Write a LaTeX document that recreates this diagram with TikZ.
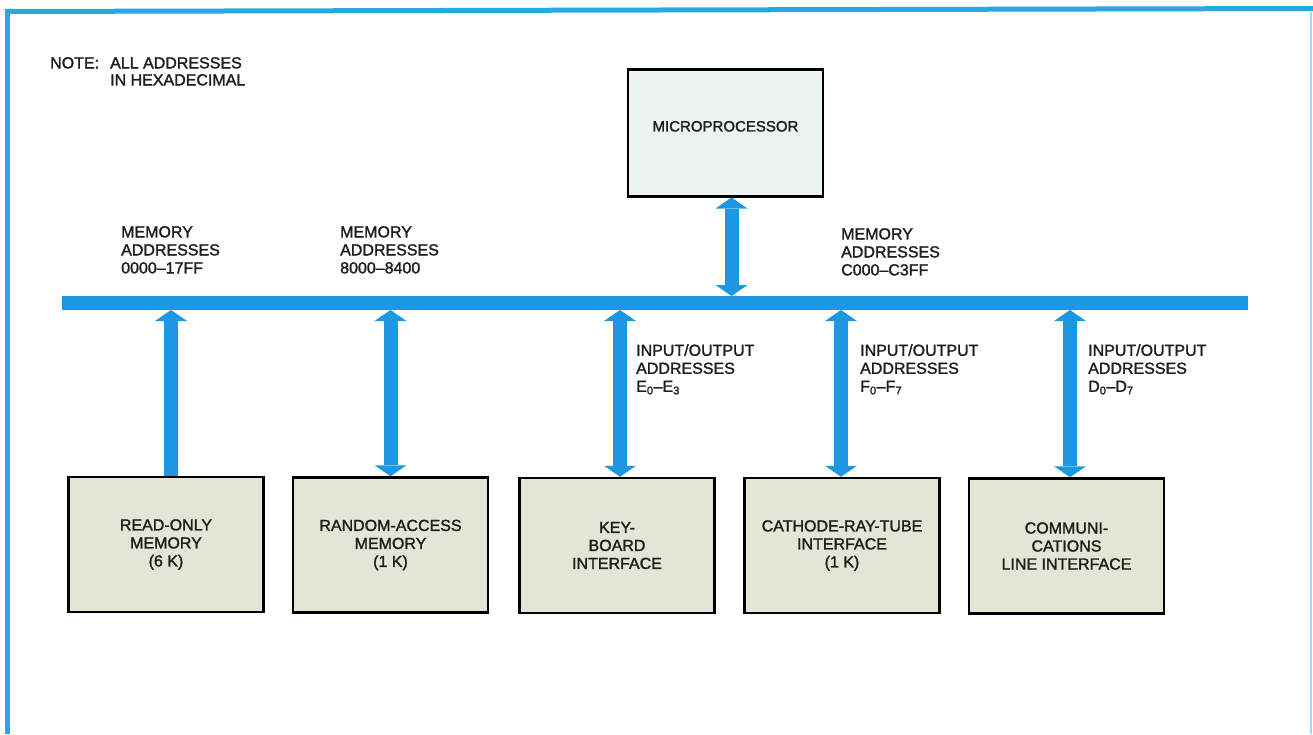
\documentclass[tikz,border=0pt]{standalone}
\usepackage{fontspec}
% a medium weight: the regular face, slightly emboldened
\setmainfont[BoldFont={Liberation Sans}, BoldFeatures={FakeBold=1.6}]{Liberation Sans}
\usetikzlibrary{arrows.meta}

\definecolor{busblue}{RGB}{28,152,226}
\definecolor{frameblue}{RGB}{40,168,226}
\definecolor{cpufill}{RGB}{236,243,240}
\definecolor{unitfill}{RGB}{227,229,213}
\definecolor{inkcol}{RGB}{30,30,30}

\begin{document}
\begin{tikzpicture}[x=1pt,y=-1pt,
  every node/.style={font=\fontsize{16}{18}\selectfont\bfseries, text=inkcol, inner sep=0pt},
  unit/.style={draw=black, line width=2.5pt, fill=unitfill,
    minimum width=195pt, minimum height=135pt, align=center},
  cpubox/.style={unit, fill=cpufill, minimum height=127pt,
    font=\fontsize{15}{18}\selectfont\bfseries, text depth=13pt},
  busbar/.style={fill=busblue, minimum width=1186pt, minimum height=14pt, outer sep=0pt},
  addr/.style={anchor=north west, align=left},
  note/.style={anchor=north west, align=left, font=\fontsize{16}{17}\selectfont\bfseries},
  buslink/.style={draw=busblue, line width=14pt},
  >={Triangle[width=32pt,length=11pt,line width=0pt]}
]
\useasboundingbox (0,0) rectangle (1313,734);

% frame
\draw[frameblue, line width=5pt] (5,11.5) -- (1313,8.5);
\draw[frameblue, line width=5pt] (7.5,9) -- (7.5,734);
\draw[frameblue!45, line width=2.5pt] (1311,12) -- (1311,734);

% note
\node[note] (notehead) at (50,57) {NOTE:};
\node[note] (notebody) at (110,57) {ALL ADDRESSES\\IN HEXADECIMAL};

% processor and bus
\node[cpubox] (cpu) at (725.5,132.75) {MICROPROCESSOR};
\node[busbar] (bus) at (655,303) {};

% units on the bus
\node[unit] (rom)  at (166,544.5)  {READ-ONLY\\MEMORY\\(6 K)};
\node[unit] (ram)  at (390.5,545)  {RANDOM-ACCESS\\MEMORY\\(1 K)};
\node[unit] (kbd)  at (617,545.5)  {KEY-\\BOARD\\INTERFACE};
\node[unit] (crt)  at (842,545.5)  {CATHODE-RAY-TUBE\\INTERFACE\\(1 K)};
\node[unit] (comm) at (1066.5,546) {COMMUNI-\\CATIONS\\LINE INTERFACE};

% connection points
\coordinate (cpuport)  at ([xshift=6pt]cpu.south);
\coordinate (romport)  at ([xshift=5pt]rom.north);
\coordinate (ramport)  at (ram.north);
\coordinate (kbdport)  at ([xshift=3pt]kbd.north);
\coordinate (crtport)  at ([xshift=-1pt]crt.north);
\coordinate (commport) at ([xshift=3.5pt]comm.north);

% bus links
\draw[buslink,<->] (cpuport) -- (cpuport |- bus.north);
\draw[buslink,->]  (romport) -- (romport |- bus.south);
\draw[buslink,<->] (bus.south -| ramport) -- (ramport);
\draw[buslink,<->] (bus.south -| kbdport) -- (kbdport);
\draw[buslink,<->] (bus.south -| crtport) -- (crtport);
\draw[buslink,<->] (bus.south -| commport) -- (commport);

% address labels
\node[addr] (romaddr) at (121,226) {MEMORY\\ADDRESSES\\0000–17FF};
\node[addr] (ramaddr) at (340,226) {MEMORY\\ADDRESSES\\8000–8400};
\node[addr] (crtmem)  at (841,228) {MEMORY\\ADDRESSES\\C000–C3FF};
\node[addr] (kbdaddr) at (636,344) {INPUT/OUTPUT\\ADDRESSES\\E\textsubscript{0}–E\textsubscript{3}};
\node[addr] (crtaddr) at (860,344) {INPUT/OUTPUT\\ADDRESSES\\F\textsubscript{0}–F\textsubscript{7}};
\node[addr] (comaddr) at (1088,344) {INPUT/OUTPUT\\ADDRESSES\\D\textsubscript{0}–D\textsubscript{7}};
\end{tikzpicture}
\end{document}
